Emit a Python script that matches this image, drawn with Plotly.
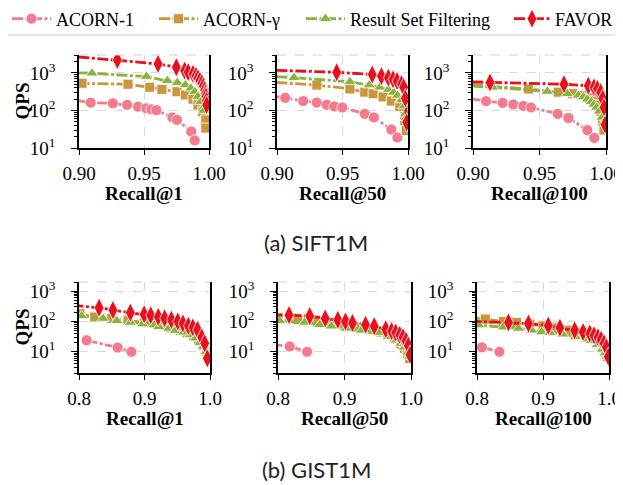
import math
import plotly.graph_objects as go

# Page is rendered with the default 8px body margin, so the figure is 615x477 and
# reference pixel positions are converted with an 8px offset.
OFF = 8
FW, FH = 623 - OFF, 485 - OFF


def px(x):
    return (x - OFF) / FW


def py(y):
    return 1 - (y - OFF) / FH


# ---------------- data ----------------
series_names = ["ACORN-1", "ACORN-γ", "Result Set Filtering", "FAVOR"]
series_colors = ["#F47A8E", "#C9963B", "#8AB33D", "#E8101C"]
series_symbols = ["circle", "square", "triangle-up", "diamond-tall"]
series_sizes = [11, 10, 11, 14]

x_titles = ["Recall@1", "Recall@50", "Recall@100"]
captions = ["(a) SIFT1M", "(b) GIST1M"]

# SIFT1M, Recall@1
s1_acorn1_x = [0.885, 0.909, 0.926, 0.937, 0.9454, 0.9518, 0.9556, 0.9595, 0.9718, 0.9754, 0.9864, 0.989]
s1_acorn1_y = [215, 161, 155, 141, 126, 114, 107, 102, 65, 56, 27.5, 16]
s1_acorng_x = [0.885, 0.9023, 0.9377, 0.9544, 0.9638, 0.9754, 0.9818, 0.9877, 0.9915, 0.995, 0.9975, 0.9976]
s1_acorng_y = [540, 530, 500, 415, 365, 316, 259, 200, 140, 93, 56, 34]
s1_rsf_x = [0.885, 0.910, 0.9518, 0.968, 0.9756, 0.9818, 0.986, 0.989, 0.9915, 0.9936, 0.9954, 0.996]
s1_rsf_y = [1040, 980, 800, 620, 550, 480, 390, 316, 233, 170, 114, 100]
s1_favor_x = [0.885, 0.9295, 0.9608, 0.9749, 0.9813, 0.984, 0.9877, 0.990, 0.9915, 0.993, 0.9946, 0.9957, 0.9967, 0.9973, 0.9977, 0.998, 0.9982]
s1_favor_y = [2950, 2220, 1740, 1415, 1150, 1050, 940, 830, 720, 620, 530, 440, 350, 280, 233, 180, 140]

# SIFT1M, Recall@50
s50_acorn1_x = [0.885, 0.9063, 0.920, 0.9304, 0.938, 0.9438, 0.9499, 0.967, 0.9739, 0.9873, 0.9919]
s50_acorn1_y = [270, 217, 178, 162, 141, 128, 120, 81, 65, 31, 19]
s50_acorng_x = [0.885, 0.9304, 0.9557, 0.967, 0.9734, 0.981, 0.9873, 0.9937, 0.9975, 0.9987]
s50_acorng_y = [600, 475, 375, 308, 280, 230, 178, 128, 53, 29]
s50_rsf_x = [0.885, 0.913, 0.9557, 0.9704, 0.9785, 0.985, 0.989, 0.992, 0.995, 0.997, 0.998, 0.9987]
s50_rsf_y = [850, 745, 578, 475, 414, 360, 300, 250, 190, 130, 80, 64]
s50_favor_x = [0.885, 0.9456, 0.9727, 0.9797, 0.985, 0.9886, 0.9916, 0.995, 0.9967, 0.998, 0.999]
s50_favor_y = [1220, 1040, 905, 820, 745, 675, 610, 500, 415, 210, 48]

# SIFT1M, Recall@100
s100_acorn1_x = [0.885, 0.9098, 0.9223, 0.9303, 0.9378, 0.9436, 0.9637, 0.9717, 0.986, 0.9912]
s100_acorn1_y = [240, 177, 160, 145, 132, 120, 81, 63, 30, 18.6]
s100_acorng_x = [0.885, 0.9416, 0.964, 0.975, 0.982, 0.987, 0.991, 0.994, 0.996, 0.9975, 0.9985]
s100_acorng_y = [520, 373, 307, 280, 250, 215, 180, 140, 95, 50, 30]
s100_rsf_x = [0.885, 0.9148, 0.9559, 0.9709, 0.9792, 0.983, 0.986, 0.989, 0.991, 0.993, 0.995, 0.997, 0.998]
s100_rsf_y = [480, 413, 320, 278, 252, 230, 200, 170, 145, 120, 95, 65, 45]
s100_favor_x = [0.885, 0.9128, 0.9684, 0.9867, 0.991, 0.9935, 0.996, 0.9975, 0.9985, 0.9993]
s100_favor_y = [590, 553, 500, 456, 413, 373, 307, 207, 120, 42]

# GIST1M, Recall@1
g1_acorn1_x = [0.8116, 0.859, 0.880]
g1_acorn1_y = [24, 13.8, 10]
g1_acorng_x = [0.79, 0.8015, 0.824, 0.85, 0.875, 0.90, 0.92, 0.94, 0.955, 0.965, 0.975, 0.983, 0.99, 0.995, 0.998]
g1_acorng_y = [200, 180, 140, 125, 110, 92, 78, 62, 50, 42, 33, 25, 16, 10, 6]
g1_rsf_x = [0.79, 0.804, 0.8367, 0.8578, 0.8784, 0.897, 0.9146, 0.922, 0.937, 0.947, 0.96, 0.97, 0.978, 0.985, 0.99, 0.994, 0.997]
g1_rsf_y = [170, 152, 125, 105, 93, 82, 76, 67, 59, 50, 44, 36, 28, 20, 15, 10, 7]
g1_favor_x = [0.79, 0.8307, 0.8518, 0.8784, 0.8995, 0.9095, 0.921, 0.9307, 0.941, 0.9508, 0.9588, 0.967, 0.9739, 0.981, 0.9874, 0.992, 0.996]
g1_favor_y = [340, 283, 237, 195, 172, 160, 141, 128, 113, 100, 86, 72, 64, 53, 30, 19, 6.1]

# GIST1M, Recall@50
g50_acorn1_x = [0.79, 0.8176, 0.8437]
g50_acorn1_y = [17.5, 15, 10]
g50_acorng_x = [0.79, 0.80, 0.83, 0.86, 0.88, 0.90, 0.92, 0.94, 0.955, 0.965, 0.975, 0.985, 0.99, 0.995, 0.998]
g50_acorng_y = [140, 134, 115, 100, 90, 75, 65, 55, 45, 38, 28, 18, 13, 9, 6]
g50_rsf_x = [0.79, 0.8025, 0.840, 0.8628, 0.880, 0.903, 0.9206, 0.9256, 0.952, 0.9658, 0.978, 0.985, 0.99, 0.995, 0.998]
g50_rsf_y = [118, 105, 93, 78, 70, 59, 55, 51, 43, 31, 24, 19, 14, 9.5, 7]
g50_favor_x = [0.79, 0.8166, 0.8477, 0.871, 0.890, 0.9015, 0.912, 0.9317, 0.9447, 0.962, 0.9709, 0.977, 0.983, 0.988, 0.9925, 0.996, 0.9985]
g50_favor_y = [160, 162, 150, 125, 113, 100, 89, 78, 70, 55, 48, 43, 36, 30, 23, 16, 8]

# GIST1M, Recall@100
g100_acorn1_x = [0.8075, 0.834]
g100_acorn1_y = [14, 10]
g100_acorng_x = [0.79, 0.8126, 0.84, 0.86, 0.88, 0.90, 0.92, 0.94, 0.955, 0.965, 0.975, 0.985, 0.99, 0.995, 0.998]
g100_acorng_y = [130, 120, 100, 92, 82, 72, 62, 52, 44, 38, 30, 20, 14, 10, 7]
g100_rsf_x = [0.79, 0.8025, 0.840, 0.8628, 0.883, 0.898, 0.9106, 0.930, 0.949, 0.966, 0.973, 0.982, 0.99, 0.994, 0.997]
g100_rsf_y = [80, 76, 65, 59, 51, 45, 43, 38, 31, 26, 23, 17, 12, 9, 7]
g100_favor_x = [0.79, 0.8477, 0.878, 0.908, 0.9256, 0.948, 0.9608, 0.9709, 0.9774, 0.9834, 0.988, 0.9925, 0.996, 0.999]
g100_favor_y = [102, 93, 85, 73, 62, 51, 45, 40, 35, 30, 25, 19, 14, 6.9]

panels = [
    [(s1_acorn1_x, s1_acorn1_y), (s1_acorng_x, s1_acorng_y), (s1_rsf_x, s1_rsf_y), (s1_favor_x, s1_favor_y)],
    [(s50_acorn1_x, s50_acorn1_y), (s50_acorng_x, s50_acorng_y), (s50_rsf_x, s50_rsf_y), (s50_favor_x, s50_favor_y)],
    [(s100_acorn1_x, s100_acorn1_y), (s100_acorng_x, s100_acorng_y), (s100_rsf_x, s100_rsf_y), (s100_favor_x, s100_favor_y)],
    [(g1_acorn1_x, g1_acorn1_y), (g1_acorng_x, g1_acorng_y), (g1_rsf_x, g1_rsf_y), (g1_favor_x, g1_favor_y)],
    [(g50_acorn1_x, g50_acorn1_y), (g50_acorng_x, g50_acorng_y), (g50_rsf_x, g50_rsf_y), (g50_favor_x, g50_favor_y)],
    [(g100_acorn1_x, g100_acorn1_y), (g100_acorng_x, g100_acorng_y), (g100_rsf_x, g100_rsf_y), (g100_favor_x, g100_favor_y)],
]

top_xticks = [0.90, 0.95, 1.00]
top_xticktext = ["0.90", "0.95", "1.00"]
bot_xticks = [0.8, 0.9, 1.0]
bot_xticktext = ["0.8", "0.9", "1.0"]
y_major = [10, 100, 1000]
y_major_text = ["10<sup>1</sup>", "10<sup>2</sup>", "10<sup>3</sup>"]
y_minor = [m * d for d in (1, 10, 100, 1000) for m in range(2, 10)]
top_ylim = [10, 3000]
bot_ylim = [2, 2000]

# ---------------- layout geometry (reference pixels) ----------------
panel_x = [(79, 209), (277, 408), (473, 606), (79, 210), (278, 411), (477, 609)]
panel_y = [(55, 148)] * 3 + [(282, 373)] * 3
x_ranges = [[0.90, 1.00]] * 3 + [[0.80, 1.00]] * 3
y_ranges = [[math.log10(v) for v in top_ylim]] * 3 + [[math.log10(v) for v in bot_ylim]] * 3
legend_line_start = [12, 159, 306, 514]
legend_itemwidth = [39, 39, 39, 36]
legend_names = ["legend", "legend2", "legend3", "legend4"]

SERIF = "Liberation Serif"
fig = go.Figure()

for p, series in enumerate(panels):
    ax = "" if p == 0 else str(p + 1)
    for s, (xs, ys) in enumerate(series):
        fig.add_trace(go.Scatter(
            x=xs, y=ys, mode="lines+markers",
            name=series_names[s], legendgroup=series_names[s], showlegend=(p == 0),
            legend=legend_names[s],
            line=dict(color=series_colors[s], width=2.8, dash="11px,2.5px,3px,2.5px"),
            marker=dict(symbol=series_symbols[s], size=series_sizes[s], color=series_colors[s],
                        line=dict(color="white", width=0.8)),
            xaxis="x" + ax, yaxis="y" + ax, cliponaxis=True,
        ))

axis_common = dict(showline=True, linecolor="black", linewidth=1.5,
                   ticks="outside", tickcolor="black", tickwidth=1.2, automargin=False,
                   showgrid=True, gridcolor="#d9d9d9", griddash="dash", gridwidth=1,
                   zeroline=False, tickfont=dict(family=SERIF, size=19, color="black"))

shapes = []
for p in range(6):
    ax = "" if p == 0 else str(p + 1)
    x0, x1 = panel_x[p]
    yt, yb = panel_y[p]
    top = p < 3
    fig.layout["xaxis" + ax] = dict(
        axis_common, domain=[px(x0), px(x1)], range=x_ranges[p], anchor="y" + ax,
        mirror=False, tickmode="array", tickvals=top_xticks if top else bot_xticks,
        ticktext=top_xticktext if top else bot_xticktext, ticklen=5, ticklabelstandoff=2,
    )
    fig.layout["yaxis" + ax] = dict(
        axis_common, domain=[py(yb), py(yt)], type="log", range=y_ranges[p],
        anchor="x" + ax, mirror=True, tickmode="array", tickvals=y_major, ticktext=y_major_text,
        ticklen=6, ticklabelstandoff=12,
        minor=dict(tickmode="array", tickvals=y_minor, ticks="outside", ticklen=3,
                   tickcolor="black", tickwidth=1, showgrid=False),
    )
    # top frame edge: light dashed line
    shapes.append(dict(type="line", xref="x%s domain" % ax, yref="y%s domain" % ax,
                       x0=0, x1=1, y0=1, y1=1, line=dict(color="#cfcfcf", width=1.2, dash="dash")))

# legend frame (runs past the right edge, as in the reference)
shapes.append(dict(type="rect", xref="paper", yref="paper", x0=px(4), x1=px(640),
                   y0=py(35), y1=py(3), line=dict(color="#cccccc", width=1),
                   fillcolor="rgba(0,0,0,0)", layer="below"))

annotations = []
for p in range(6):
    x0, x1 = panel_x[p]
    yb = panel_y[p][1]
    annotations.append(dict(text="<b>%s</b>" % x_titles[p % 3], x=px((x0 + x1) / 2),
                            y=py(yb + 45), xref="paper", yref="paper",
                            showarrow=False, font=dict(family=SERIF, size=19, color="black"),
                            xanchor="center", yanchor="middle"))
for row in range(2):
    yt, yb = panel_y[row * 3]
    annotations.append(dict(text="<b>QPS</b>", x=px(22), y=py((yt + yb) / 2),
                            xref="paper", yref="paper", showarrow=False, textangle=-90,
                            font=dict(family=SERIF, size=19, color="black"),
                            xanchor="center", yanchor="middle"))
annotations.append(dict(text=captions[0], x=px(316), y=py(242), xref="paper", yref="paper",
                        showarrow=False, font=dict(family="Lato", size=22, color="#222"),
                        xanchor="center", yanchor="middle"))
annotations.append(dict(text=captions[1], x=px(316), y=py(469), xref="paper", yref="paper",
                        showarrow=False, font=dict(family="Lato", size=22, color="#222"),
                        xanchor="center", yanchor="middle"))

layout_kw = dict(
    width=FW, height=FH, margin=dict(l=0, r=0, t=0, b=0, autoexpand=False),
    paper_bgcolor="white", plot_bgcolor="white",
    annotations=annotations, shapes=shapes,
)
for s, lname in enumerate(legend_names):
    layout_kw[lname] = dict(orientation="h", x=px(legend_line_start[s] - 5), y=py(19),
                            xanchor="left", yanchor="middle", bgcolor="rgba(0,0,0,0)",
                            borderwidth=0, itemwidth=legend_itemwidth[s],
                            font=dict(family=SERIF, size=18, color="black"))
fig.update_layout(**layout_kw)

fig.write_html("out.html")
